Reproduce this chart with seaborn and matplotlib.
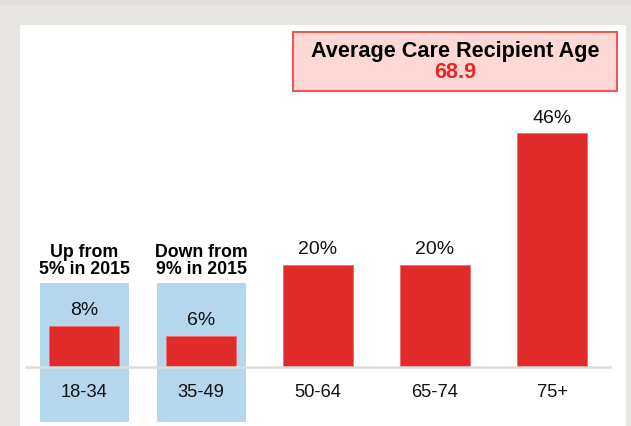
import matplotlib
matplotlib.use("Agg")
import matplotlib.pyplot as plt
from matplotlib.patches import Rectangle
import seaborn as sns
import pandas as pd

categories = ["18-34", "35-49", "50-64", "65-74", "75+"]
values = [8, 6, 20, 20, 46]
value_labels = ["8%", "6%", "20%", "20%", "46%"]
notes = {"18-34": "Up from\n5% in 2015", "35-49": "Down from\n9% in 2015"}
title_text = "Average Care Recipient Age"
avg_age = "68.9"

sns.set_theme(style="white")
plt.rcParams["font.family"] = ["Liberation Sans", "DejaVu Sans"]

W, H = 631, 427
fig = plt.figure(figsize=(W / 100, H / 100), dpi=100)
fig.patch.set_facecolor("#e8e6e3")

def fx(px):
    return px / W

def fy(py):
    return 1 - py / H

# top darker strip
fig.patches.append(Rectangle((0, fy(6)), 1, 6 / H, transform=fig.transFigure,
                             facecolor="#e1dfdb", edgecolor="none", zorder=-2))
# white panel
fig.patches.append(Rectangle((fx(20), 0), fx(626) - fx(20), fy(26), transform=fig.transFigure,
                             facecolor="white", edgecolor="none", zorder=-2))

# axes: left 26px, right 610px, bottom at baseline 367.5, top at 26
x_left, x_right, base_y, top_y = 26, 610, 367.5, 26
ax = fig.add_axes([fx(x_left), fy(base_y), fx(x_right) - fx(x_left), fy(top_y) - fy(base_y)])
ax.set_zorder(5)
ax.set_facecolor("none")

df = pd.DataFrame({"age": categories, "pct": values})
sns.barplot(data=df, x="age", y="pct", order=categories, color="#e12a2a", saturation=1,
            width=0.59, ax=ax, zorder=3, edgecolor="#ee6b6b", linewidth=0.6)

step = 117.0
ppu = 5.07
x0 = (x_left - 84) / step
ax.set_xlim(x0, x0 + (x_right - x_left) / step)
ax.set_ylim(0, (base_y - top_y) / ppu)

# highlight boxes
for i, c in enumerate(categories):
    if c in notes:
        ax.add_patch(Rectangle((i - 44.5 / step, -(423 - base_y) / ppu), 89.5 / step,
                               (423 - 284) / ppu, facecolor="#b4d7ee", edgecolor="none",
                               clip_on=False, zorder=0.2))
        ax.text(i, (base_y - 261) / ppu, notes[c], ha="center", va="center",
                fontsize=12.8, fontweight="bold", color="black", linespacing=1.05)

# value labels
for i, (v, lab) in enumerate(zip(values, value_labels)):
    ax.annotate(lab, (i, v), xytext=(0, 5.5), textcoords="offset points",
                ha="center", va="bottom", fontsize=14, color="#111111")

ax.set_axisbelow(False)
for s in ["top", "right", "left"]:
    ax.spines[s].set_visible(False)
ax.spines["bottom"].set_color("#dcdcdc")
ax.spines["bottom"].set_linewidth(1.8)
ax.spines["bottom"].set_zorder(4)
ax.set_yticks([])
ax.set_xlabel("")
ax.set_ylabel("")
ax.tick_params(axis="x", length=0, pad=12, labelsize=13.2, labelcolor="#111111")

# title box
fig.patches.append(Rectangle((fx(293), fy(92)), fx(617) - fx(293), fy(33) - fy(92),
                             transform=fig.transFigure, facecolor="#fdd8d5",
                             edgecolor="#e8595a", linewidth=1.5, zorder=2))
fig.text(fx(455), fy(52), title_text, ha="center", va="center", fontsize=15.6,
         fontweight="bold", color="black")
fig.text(fx(455), fy(73), avg_age, ha="center", va="center", fontsize=15.6,
         fontweight="bold", color="#e12a2a")

fig.savefig("out.png", dpi=100, facecolor=fig.get_facecolor())
